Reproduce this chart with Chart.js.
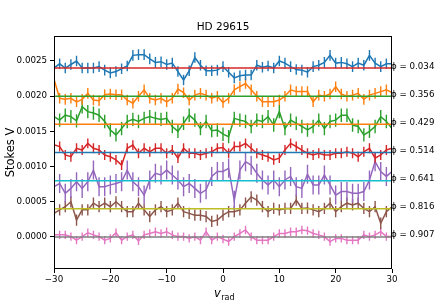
<!DOCTYPE html>
<html>
<head>
<meta charset="utf-8">
<script src="https://cdn.jsdelivr.net/npm/chart.js@4.4.1/dist/chart.umd.min.js"></script>
<style>
  html, body { margin: 0; padding: 0; background: #fff; }
  #wrap { width: 436px; height: 303px; position: relative; }
</style>
</head>
<body>
<div id="wrap"><canvas id="c" width="436" height="303"></canvas></div>
<script>
/* ── data ────────────────────────────────────────────────────────────── */
const V_RAD = [-30,-29,-28,-27,-26,-25,-24,-23,-22,-21,-20,-19,-18,-17,-16,-15,-14,-13,-12,-11,
  -10,-9,-8,-7,-6,-5,-4,-3,-2,-1,0,1,2,3,4,5,6,7,8,9,10,11,12,13,14,15,16,17,18,19,20,
  21,22,23,24,25,26,27,28,29,30];

const X_TICKS = [-30, -20, -10, 0, 10, 20, 30];
const Y_TICKS = [0.0000, 0.0005, 0.0010, 0.0015, 0.0020, 0.0025];

const PHASES  = ['0.034', '0.356', '0.429', '0.514', '0.641', '0.816', '0.907'];
const OFFSETS = [0.0024, 0.0020, 0.0016, 0.0012, 0.0008, 0.0004, 0.0000];
const ERRS    = [0.75, 0.75, 0.95, 0.7, 1.35, 0.8, 0.6];   // half error bar, units of 1e-4

// deviations from each offset, units of 1e-4
const DEV_034 = [0.0,0.6,0.0,0.5,1.0,0.0,0.0,0.0,0.2,-0.3, -0.7,-0.5,-0.1,0.3,1.8,1.9,1.9,1.3,0.8,0.9,
  0.5,0.7,-0.5,-1.7,-0.4,1.5,0.4,-0.4,-0.4,-0.3, 0.2,-0.6,-1.4,-1.1,-1.0,-1.0,0.4,0.1,0.3,0.0,
  1.0,0.7,0.2,-0.2,-0.3,-0.6,0.2,0.4,0.8,1.8, 0.7,0.8,0.6,0.2,0.7,0.4,1.8,0.7,0.2,0.6,0.6];
const DEV_356 = [2.4,-0.3,-0.45,-0.3,-0.8,-0.45,0.4,-0.55,-0.65,0.2, 0.3,0.2,0.2,-0.55,-1.0,0.0,0.9,-0.3,-0.55,-0.3,
  -0.8,-0.3,1.0,0.5,-0.55,0.15,0.4,0.15,-0.3,0.0, -0.9,-0.3,0.9,1.35,1.8,0.9,0.0,-0.8,-0.8,-0.8,
  -0.55,0.0,0.9,0.65,0.65,0.65,-0.8,0.15,0.0,0.3, 1.35,0.3,0.0,0.15,0.4,-0.45,0.15,0.4,0.65,0.9,0.5];
const DEV_429 = [1.1,0.6,1.3,1.1,0.5,2.5,1.8,1.6,1.3,0.4, -0.8,-1.5,-0.6,0.4,0.7,0.4,0.85,1.1,0.85,0.7,
  0.85,-0.3,-1.0,0.15,1.3,0.6,-0.6,0.4,-0.9,-0.8, -1.4,-1.75,0.85,0.6,0.4,-0.3,0.6,0.4,1.1,-0.1,
  1.8,-0.6,0.6,0.15,-0.3,-0.8,-0.3,0.6,-0.6,0.4, 0.6,1.3,1.3,-0.1,-0.3,-1.5,-1.0,-0.3,1.1,0.4,-0.6];
const DEV_514 = [1.1,0.85,-0.35,-0.6,0.6,0.35,1.3,0.6,0.35,-0.35, -0.6,-1.05,-1.8,0.6,1.05,-0.1,0.6,0.1,0.6,0.6,
  -0.1,0.35,-0.8,0.6,-0.1,-0.1,-0.35,-0.1,0.1,0.6, 0.7,-0.1,0.85,0.85,1.3,0.6,-0.1,-0.35,-0.6,-1.05,
  -0.8,0.35,1.3,0.85,0.35,-0.1,-0.35,-0.1,-0.35,-0.35, -0.1,-0.1,0.1,-0.1,-0.6,0.1,0.6,-0.8,-0.35,0.35,0.6];
const DEV_641 = [-0.85,-0.4,-1.8,-1.1,-0.15,-1.1,-0.15,1.5,-0.85,-0.85, -0.6,-0.4,-0.15,1.5,-0.15,-0.85,-2.05,0.1,1.05,0.8,
  1.5,0.8,0.1,-0.85,-0.4,-1.1,-1.8,-1.3,0.6,1.3, 1.3,1.75,-2.8,1.5,2.7,2.2,1.05,0.1,-0.6,0.1,
  -0.85,0.1,0.6,-0.85,-1.1,0.9,-0.6,-0.6,0.8,-0.6, -2.05,-1.55,-1.55,-1.8,-1.8,-1.55,0.1,2.7,1.3,0.6,1.3];
const DEV_816 = [-0.65,-0.15,0.3,1.0,-1.6,-0.15,-0.15,0.8,0.3,0.8, 0.3,1.0,0.3,-0.4,-0.4,0.8,-0.15,-1.1,-0.15,0.3,
  -0.4,-0.15,0.8,-0.4,-0.65,-0.9,-0.9,-1.1,-1.8,-1.6, -0.9,-0.4,-0.4,-0.15,0.8,1.7,1.25,0.3,-0.4,0.05,
  -0.15,0.05,0.05,1.25,0.05,0.1,-0.15,-0.4,0.05,0.8, -0.4,0.3,0.8,0.55,0.8,0.05,-0.4,0.3,-2.05,-0.4,0.3];
const DEV_907 = [0.3,0.3,0.3,0.05,-0.45,0.05,0.6,0.3,0.05,-0.45, -0.2,0.6,-0.45,0.05,0.3,-0.55,0.3,0.5,0.75,0.5,
  0.75,0.3,0.05,0.05,-0.2,0.05,-0.45,0.75,-0.45,0.05, -0.3,-0.65,0.05,0.5,1.0,0.05,-0.45,-0.45,-0.45,0.05,
  0.5,0.5,0.75,0.75,1.0,0.9,0.5,0.3,0.05,-0.65, -0.2,-0.2,-0.45,-0.45,-0.45,0.3,0.05,0.3,0.75,0.05,0.05];

const DEVS = [DEV_034, DEV_356, DEV_429, DEV_514, DEV_641, DEV_816, DEV_907];

const SERIES_CLR = ['#1f77b4', '#ff7f0e', '#2ca02c', '#d62728', '#9467bd', '#8c564b', '#e377c2'];
const HLINE_CLR  = ['#d62728', '#2ca02c', '#ff7f0e', '#1f77b4', '#17becf', '#bcbd22', '#7f7f7f'];

const FONT = 'DejaVu Sans';

/* ── datasets ────────────────────────────────────────────────────────── */
const datasets = [];
DEVS.forEach((dev, s) => {
  datasets.push({
    data: V_RAD.map((v, i) => ({ x: v, y: OFFSETS[s] + dev[i] * 1e-4 })),
    errs: dev.map(() => ERRS[s] * 1e-4),
    borderColor: SERIES_CLR[s],
    borderWidth: 1.5,
    pointRadius: 0,
    tension: 0,
    order: 2
  });
});
OFFSETS.forEach((o, s) => {
  datasets.push({
    data: [{ x: -30, y: o }, { x: 30, y: o }],
    borderColor: HLINE_CLR[s],
    borderWidth: 1.5,
    pointRadius: 0,
    order: 1
  });
});

/* ── error bars, drawn right after their own line ───────────────────── */
const errorBars = {
  id: 'errorBars',
  afterDatasetDraw(chart, args) {
    const ds = chart.data.datasets[args.index];
    if (!ds.errs) return;
    const { ctx, chartArea: ca, scales: { x, y } } = chart;
    ctx.save();
    ctx.beginPath();
    ctx.rect(ca.left, ca.top, ca.right - ca.left, ca.bottom - ca.top);
    ctx.clip();
    ctx.strokeStyle = ds.borderColor;
    ctx.lineWidth = 1.4;
    ctx.beginPath();
    ds.data.forEach((p, i) => {
      const px = x.getPixelForValue(p.x);
      ctx.moveTo(px, y.getPixelForValue(p.y - ds.errs[i]));
      ctx.lineTo(px, y.getPixelForValue(p.y + ds.errs[i]));
    });
    ctx.stroke();
    ctx.restore();
  }
};

/* ── frame, title, axis labels, phase labels ────────────────────────── */
const decor = {
  id: 'decor',
  afterDraw(chart) {
    const { ctx, chartArea: ca, scales: { y } } = chart;
    ctx.save();
    ctx.strokeStyle = '#000';
    ctx.lineWidth = 1;
    ctx.strokeRect(Math.round(ca.left) + 0.5, Math.round(ca.top) + 0.5,
                   Math.round(ca.right - ca.left) - 1, Math.round(ca.bottom - ca.top) - 1);

    ctx.fillStyle = '#000';
    ctx.textAlign = 'center';
    ctx.textBaseline = 'alphabetic';
    ctx.font = `10.5px "${FONT}"`;
    ctx.fillText('HD 29615', (ca.left + ca.right) / 2, 30);

    // y label
    ctx.save();
    ctx.translate(14, (ca.top + ca.bottom) / 2);
    ctx.rotate(-Math.PI / 2);
    ctx.font = `11.5px "${FONT}"`;
    ctx.fillText('Stokes V', 0, 0);
    ctx.restore();

    // x label: v_rad
    ctx.textAlign = 'left';
    ctx.font = `italic 11.5px "${FONT}"`;
    const wV = ctx.measureText('v').width;
    ctx.font = `8px "${FONT}"`;
    const wR = ctx.measureText('rad').width;
    const x0 = (ca.left + ca.right) / 2 + 1 - (wV + wR) / 2;
    ctx.font = `italic 11.5px "${FONT}"`;
    ctx.fillText('v', x0, 297);
    ctx.font = `8px "${FONT}"`;
    ctx.fillText('rad', x0 + wV + 0.5, 300);

    // phase labels
    ctx.font = `8.7px "${FONT}"`;
    OFFSETS.forEach((o, s) => {
      ctx.fillText('\u03D5 = ' + PHASES[s], ca.right - 1, y.getPixelForValue(o) + 0.5);
    });
    ctx.restore();
  }
};

new Chart(document.getElementById('c').getContext('2d'), {
  type: 'line',
  data: { datasets },
  options: {
    responsive: false,
    animation: false,
    layout: { padding: { left: 0, right: 44, top: 36, bottom: 0 } },
    plugins: { legend: { display: false }, tooltip: { enabled: false }, title: { display: false } },
    scales: {
      x: {
        type: 'linear',
        min: -30,
        max: 30,
        afterBuildTicks: sc => { sc.ticks = X_TICKS.map(v => ({ value: v })); },
        afterFit: sc => { sc.height = 34; },
        ticks: {
          callback: v => String(v).replace('-', '\u2212'),
          font: { family: FONT, size: 8.7 },
          color: '#000',
          padding: 2,
          maxRotation: 0
        },
        grid: { drawOnChartArea: false, drawTicks: true, tickLength: 4, color: '#000' },
        border: { display: false }
      },
      y: {
        type: 'linear',
        min: -0.000455,
        max: 0.002855,
        afterBuildTicks: sc => { sc.ticks = Y_TICKS.map(v => ({ value: v })); },
        afterFit: sc => { sc.width = 54; },
        ticks: {
          callback: v => v.toFixed(4),
          font: { family: FONT, size: 8.7 },
          color: '#000',
          padding: 3
        },
        grid: { drawOnChartArea: false, drawTicks: true, tickLength: 4, color: '#000' },
        border: { display: false }
      }
    }
  },
  plugins: [errorBars, decor]
});
</script>
</body>
</html>
